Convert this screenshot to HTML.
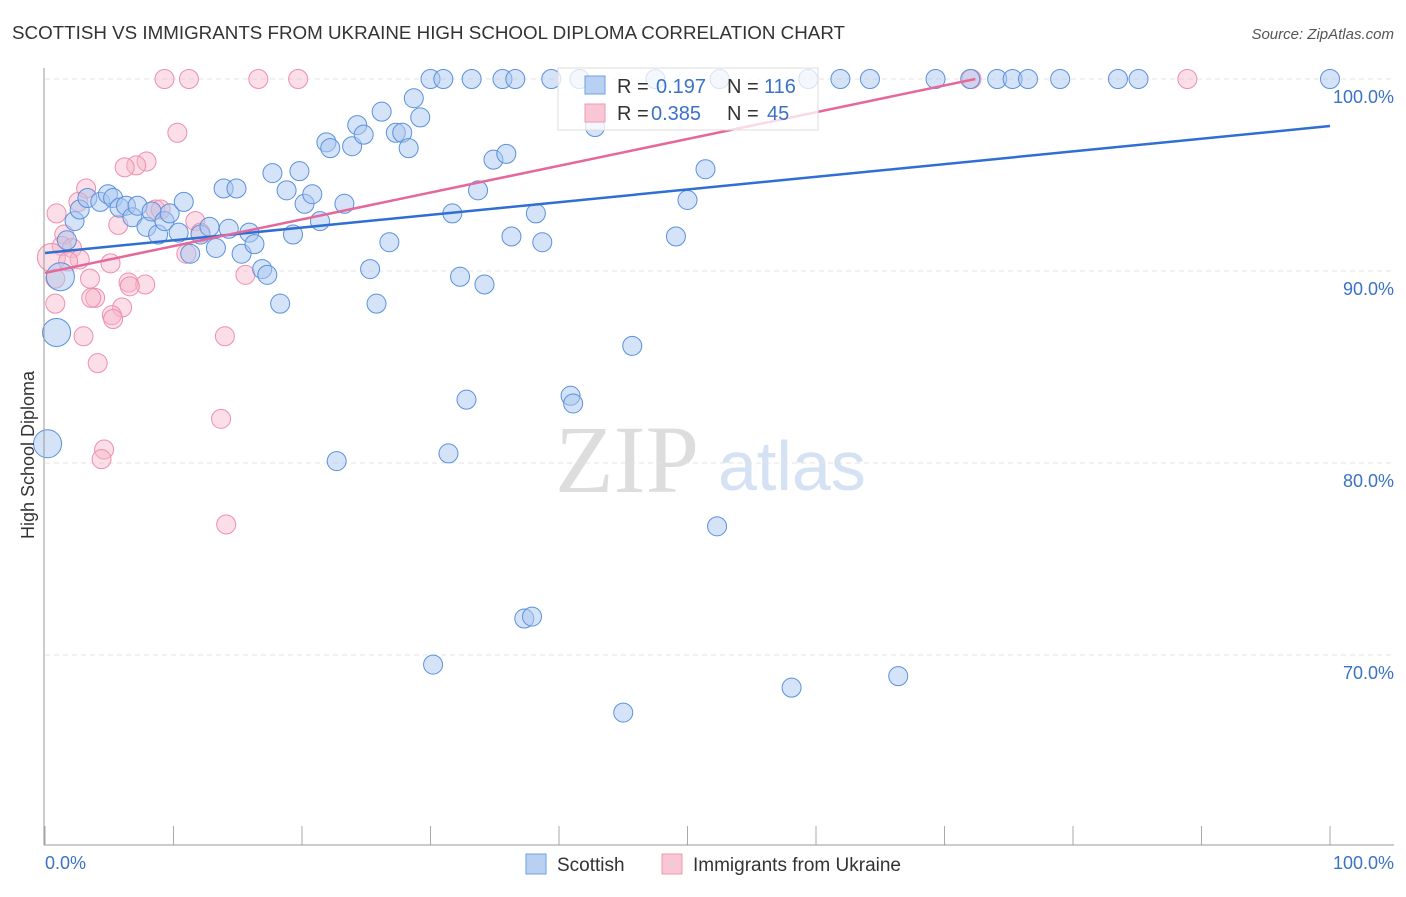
<!DOCTYPE html>
<html><head><meta charset="utf-8"><style>
body{margin:0;background:#fff;font-family:"Liberation Sans",sans-serif}
</style></head><body>
<svg id="c" width="1406" height="892" xmlns="http://www.w3.org/2000/svg">
<text x="12" y="39" font-size="18" fill="#333" textLength="833" lengthAdjust="spacingAndGlyphs">SCOTTISH VS IMMIGRANTS FROM UKRAINE HIGH SCHOOL DIPLOMA CORRELATION CHART</text>
<text x="1394" y="39" font-size="15" fill="#555" text-anchor="end" font-style="italic">Source: ZipAtlas.com</text>
<text x="555" y="492" font-size="96" fill="#ddd" font-family="Liberation Serif">ZIP</text>
<text x="718" y="490" font-size="70" fill="#d5e2f3">atlas</text>
<g id="grid"></g><g id="pts"></g><g id="lines"></g>
<line x1="44" y1="68" x2="44" y2="845" stroke="#999"/>
<line x1="44" y1="845" x2="1394" y2="845" stroke="#999"/>
<text transform="translate(34,455) rotate(-90)" font-size="18" fill="#333" text-anchor="middle">High School Diploma</text>
<text x="45" y="869" font-size="18" fill="#3a72c8">0.0%</text>
<text x="1394" y="869" font-size="18" fill="#3a72c8" text-anchor="end">100.0%</text>
<g>
<rect x="558" y="68" width="260" height="62" fill="#fff" fill-opacity="0.75" stroke="#ddd"/>
<rect x="585" y="76" width="20" height="18" fill="#b8d1f3" stroke="#6f9fe0"/>
<rect x="585" y="104" width="20" height="18" fill="#f9c6d5" stroke="#ee99b3"/>
<text x="617" y="93" font-size="20" fill="#333">R =</text>
<text x="656" y="93" font-size="20" fill="#3a72c8">0.197</text>
<text x="727" y="93" font-size="20" fill="#333">N =</text>
<text x="764" y="93" font-size="20" fill="#3a72c8">116</text>
<text x="617" y="120" font-size="20" fill="#333">R =</text>
<text x="651" y="120" font-size="20" fill="#3a72c8">0.385</text>
<text x="727" y="120" font-size="20" fill="#333">N =</text>
<text x="767" y="120" font-size="20" fill="#3a72c8">45</text>
</g>
<g>
<rect x="526" y="854" width="20" height="20" fill="#b8d1f3" stroke="#6f9fe0"/>
<text x="557" y="871" font-size="19" fill="#333">Scottish</text>
<rect x="662" y="854" width="20" height="20" fill="#f9c6d5" stroke="#ee99b3"/>
<text x="693" y="871" font-size="19" fill="#333">Immigrants from Ukraine</text>
</g>
</svg>
<script>
const yTicks=[100,90,80,70];
const xTicks=[0,10,20,30,40,50,60,70,80,90,100];
const blueX=[30.0,31.0,33.2,35.6,36.6,39.4,41.6,47.5,52.5,59.4,61.9,64.2,69.3,72.0,74.1,75.3,76.5,79.0,83.5,85.1,100,
0.2,0.9,1.2,1.7,2.3,2.7,3.3,4.3,4.9,5.3,5.8,6.3,6.8,7.2,7.9,8.3,8.8,9.3,9.7,10.4,10.8,11.3,12.1,12.8,13.3,13.9,14.9,14.3,15.3,15.9,16.3,16.9,17.3,17.7,18.3,18.8,19.3,19.8,20.2,20.8,21.4,21.9,22.2,22.7,23.3,23.9,24.3,24.8,25.3,25.8,26.2,26.8,27.3,27.8,28.3,28.7,29.2,30.2,31.4,31.7,32.3,32.8,33.7,34.2,34.9,35.9,36.3,37.3,37.9,38.2,38.7,40.9,41.1,42.8,45.0,45.7,49.1,50.0,51.4,52.3,58.1,66.4];
const blueY=[100,100,100,100,100,100,100,100,100,100,100,100,100,100,100,100,100,100,100,100,100,
81.0,86.8,89.7,91.6,92.6,93.2,93.8,93.6,94.0,93.8,93.3,93.4,92.8,93.4,92.3,93.1,91.9,92.6,93.0,92.0,93.6,90.9,91.9,92.3,91.2,94.3,94.3,92.2,90.9,92.0,91.4,90.1,89.8,95.1,88.3,94.2,91.9,95.2,93.5,94.0,92.6,96.7,96.4,80.1,93.5,96.5,97.6,97.1,90.1,88.3,98.3,91.5,97.2,97.2,96.4,99.0,98.0,69.5,80.5,93.0,89.7,83.3,94.2,89.3,95.8,96.1,91.8,71.9,72.0,93.0,91.5,83.5,83.1,97.5,67.0,86.1,91.8,93.7,95.3,76.7,68.3,68.9];
const pinkX=[9.3,11.2,16.6,19.7,88.9,72.1,10.3,7.9,7.1,6.2,3.2,2.6,0.9,5.7,8.6,9.0,11.7,12.1,1.5,1.3,2.1,0.5,2.7,1.8,5.1,11.0,15.6,0.8,3.5,6.5,7.8,6.6,3.9,3.6,0.8,6.0,5.2,5.3,3.0,14.0,4.1,13.7,4.6,4.4,14.1];
const pinkY=[100,100,100,100,100,100,97.2,95.7,95.5,95.4,94.3,93.6,93.0,92.4,93.2,93.2,92.6,92.0,91.9,91.3,91.2,90.7,90.6,90.5,90.4,90.9,89.8,89.6,89.6,89.4,89.3,89.2,88.6,88.6,88.3,88.1,87.7,87.5,86.6,86.6,85.2,82.3,80.7,80.2,76.8];
const blueTrend=[90.94,97.55];
const pinkTrend=[89.9,100,72.4];
const X=v=>45+v*12.85, Y=v=>79+(100-v)*19.2;
const ns="http://www.w3.org/2000/svg";
function mk(t,a,p){const e=document.createElementNS(ns,t);for(const k in a)e.setAttribute(k,a[k]);document.getElementById(p).appendChild(e);return e;}
yTicks.forEach(t=>{
 const l=mk('line',{x1:45,x2:1394,y1:Y(t),y2:Y(t),stroke:'#e3e3e3','stroke-dasharray':'5,4'},'grid');
 
 
 const tx=mk('text',{x:1394,y:Y(t)+24,'font-size':18,fill:'#3a72c8','text-anchor':'end'},'grid');
 tx.textContent=t.toFixed(1)+'%';
 
 
});
xTicks.forEach(t=>{
 const l=mk('line',{x1:X(t),x2:X(t),y1:826,y2:845,stroke:'#aaa'},'grid');
 
 
});
pinkX.forEach((x,i)=>{
 const c=mk('circle',{cx:X(x),cy:Y(pinkY[i]),r:(x<1&&pinkY[i]<91&&pinkY[i]>90)?14:9.5,fill:'#f7b6c9','fill-opacity':0.45,stroke:'#ee8fae','stroke-width':1},'pts');
 
 
});
blueX.forEach((x,i)=>{
 const big=i>=21&&i<24;
 const c=mk('circle',{cx:X(x),cy:Y(blueY[i]),r:big?14:9.5,fill:'#a9c8f0','fill-opacity':0.5,stroke:'#5b91dc','stroke-width':1},'pts');
 
 
});
const bl=mk('line',{x1:X(0),y1:Y(blueTrend[0]),x2:X(100),y2:Y(blueTrend[1]),stroke:'#2f6fd1','stroke-width':2.5},'lines');


const pl=mk('line',{x1:X(0),y1:Y(pinkTrend[0]),x2:X(pinkTrend[2]),y2:Y(pinkTrend[1]),stroke:'#e5689a','stroke-width':2.5},'lines');


</script>
</body></html>
